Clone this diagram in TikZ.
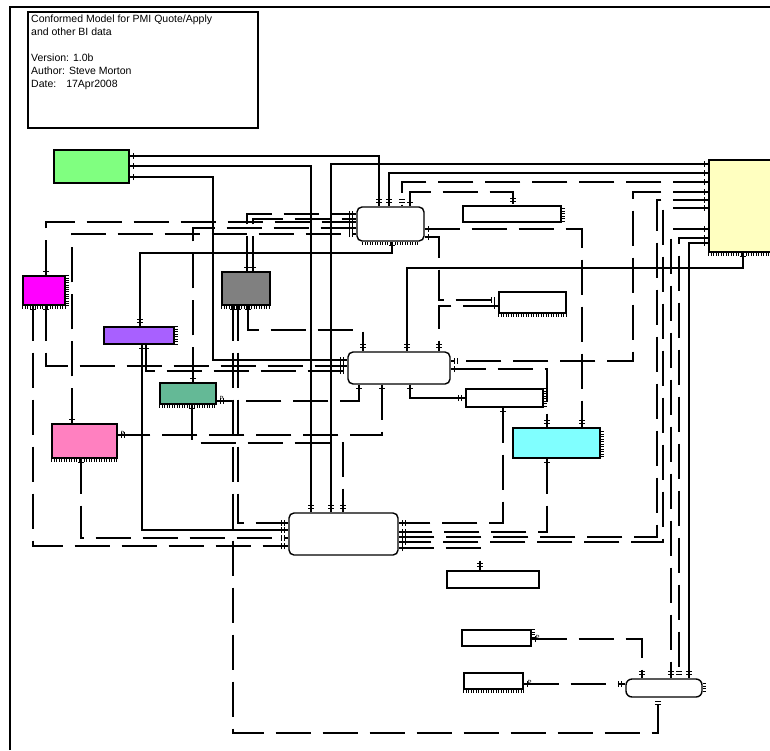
\documentclass[tikz,border=0pt]{standalone}
\usepackage{fontspec}
\setmainfont{Liberation Sans}
\usetikzlibrary{decorations.markings}
\definecolor{cgreen}{HTML}{80FF80}
\definecolor{cyellow}{HTML}{FFFFC0}
\definecolor{cmag}{HTML}{FF00FF}
\definecolor{cgray}{HTML}{808080}
\definecolor{cpurple}{HTML}{A860FF}
\definecolor{cteal}{HTML}{64B996}
\definecolor{cpink}{HTML}{FF80C0}
\definecolor{ccyan}{HTML}{80FFFF}
\tikzset{
  ent/.style={draw=black, line width=1.4pt, inner sep=0pt},
  rent/.style={ent, rounded corners=5pt},
  comb/.style={line width=2.6pt, dash pattern=on 0.7pt off 1.8pt},
  tick/.style={solid, line width=0.9pt},
  erend/.style={postaction={decorate,decoration={markings,
     mark=at position 4pt with {\draw[tick] (0,-3pt)--(0,3pt);},
     mark=at position -4pt with {\draw[tick] (0,-3pt)--(0,3pt);},
     mark=at position -7pt with {\draw[tick] (0,-3pt)--(0,3pt);}}}},
  rel/.style={line width=1.15pt, erend},
  idrel/.style={line width=1.15pt, dash pattern=on 35pt off 12pt, erend},
  pmark/.style={font=\fontsize{6}{6}\selectfont, inner sep=0pt}
}
\begin{document}
\begin{tikzpicture}[x=1pt,y=-1pt]
\useasboundingbox (0,0) rectangle (770,750);
% frame
\draw[line width=1.6pt] (10,750) -- (10,7) -- (775,7);
% title
\node[draw=black, line width=1.3pt, minimum width=230pt, minimum height=116pt, inner sep=0pt] (title) at (143,70) {};
\node[anchor=north west, align=left, inner sep=0pt, font=\fontsize{10.5}{13}\selectfont] (titletext) at (31,15)
 {Conformed Model for PMI Quote/Apply\\and other BI data\\[13pt]Version: 1.0b\\Author:\hspace{4pt}Steve Morton\\Date:\hspace{10pt}17Apr2008};
% entities
\node[ent, fill=cgreen, minimum width=75pt, minimum height=33pt] (green) at (91.5,166.5) {};
\node[ent, fill=cyellow, minimum width=75pt, minimum height=92pt] (yellow) at (746.5,206) {};
\node[rent, fill=white, minimum width=67pt, minimum height=34pt] (toprr) at (390.5,224) {};
\node[ent, fill=white, minimum width=98pt, minimum height=16pt] (twhite) at (512,214) {};
\node[ent, fill=cmag, minimum width=42pt, minimum height=29pt] (magenta) at (44,290.5) {};
\node[ent, fill=cgray, minimum width=48pt, minimum height=33pt] (gray) at (246,288.5) {};
\node[ent, fill=cpurple, minimum width=70pt, minimum height=17pt] (purple) at (139,335.5) {};
\node[ent, fill=white, minimum width=67pt, minimum height=21pt] (rwhite) at (532.5,302.5) {};
\node[rent, fill=white, minimum width=102pt, minimum height=32pt] (midrr) at (399,368) {};
\node[ent, fill=cteal, minimum width=56pt, minimum height=21pt] (teal) at (188,393.5) {};
\node[ent, fill=white, minimum width=77pt, minimum height=18pt] (w3) at (504.5,398) {};
\node[ent, fill=cpink, minimum width=65pt, minimum height=34pt] (pink) at (84.5,441) {};
\node[ent, fill=ccyan, minimum width=87pt, minimum height=30pt] (cyan) at (556.5,443) {};
\node[rent, fill=white, minimum width=109pt, minimum height=42pt] (botrr) at (343.5,534) {};
\node[ent, fill=white, minimum width=92pt, minimum height=17pt] (w4) at (493,579.5) {};
\node[ent, fill=white, minimum width=69pt, minimum height=16pt] (r2) at (496.5,638) {};
\node[ent, fill=white, minimum width=59pt, minimum height=16pt] (r3) at (493.5,681) {};
\node[rent, rounded corners=6pt, fill=white, minimum width=76pt, minimum height=18pt] (brr) at (664,688) {};
% combs
\draw[comb] ([yshift=-1.8pt]magenta.south west) -- ([yshift=-1.8pt]magenta.south east);
\draw[comb, dash pattern=on 0.7pt off 1.6pt] ([xshift=1.8pt]magenta.north east) -- ([xshift=1.8pt]magenta.south east);
\draw[comb] ([yshift=-1.8pt]gray.south west) -- ([yshift=-1.8pt]gray.south east);
\draw[comb] ([xshift=1.8pt]purple.north east) -- ([xshift=1.8pt]purple.south east);
\draw[comb] ([yshift=-1.8pt,xshift=6pt]toprr.south west) -- ([yshift=-1.8pt,xshift=-6pt]toprr.south east);
\draw[comb] ([xshift=1.8pt,yshift=-3pt]twhite.north east) -- ([xshift=1.8pt]twhite.south east);
\draw[comb] ([yshift=-1.8pt]rwhite.south west) -- ([yshift=-1.8pt]rwhite.south east);
\draw[comb] ([yshift=-1.8pt]teal.south west) -- ([yshift=-1.8pt]teal.south east);
\draw[comb] ([yshift=-1.8pt]pink.south west) -- ([yshift=-1.8pt]pink.south east);
\draw[comb] ([xshift=1.8pt,yshift=-4pt]cyan.north east) -- ([xshift=1.8pt]cyan.south east);
\draw[comb] ([yshift=-1.8pt]yellow.south west) -- ([yshift=-1.8pt]yellow.south east);
\draw[comb] ([xshift=1.8pt]w3.north east) -- ([xshift=1.8pt]w3.south east);
\draw[comb] ([yshift=-1.8pt]r3.south west) -- ([yshift=-1.8pt]r3.south east);
\draw[comb] ([xshift=1.8pt]r2.north east) -- ([xshift=1.8pt,yshift=5pt]r2.south east);
\draw[comb] ([xshift=1.8pt,yshift=-5pt]brr.north east) -- ([xshift=1.8pt,yshift=5pt]brr.south east);
% connectors from green
\draw[rel] (green.east |- 0,156) -| (379,0 |- toprr.north);
\draw[rel] (green.east |- 0,166) -| (311,0 |- botrr.north);
\draw[rel] (green.east |- 0,177) -| (213,360) -- (midrr.west |- 0,360);
% connectors from yellow
\draw[rel] (yellow.west |- 0,164) -| (331,0 |- botrr.north);
\draw[rel] (yellow.west |- 0,173) -| (389,0 |- toprr.north);
\draw[idrel] (yellow.west |- 0,182) -| (402,0 |- toprr.north);
\draw[idrel] (yellow.west |- 0,192) -| (633,361) -- (midrr.east |- 0,361);
\draw[idrel] (yellow.west |- 0,200) -| (657,537) -- (botrr.east |- 0,537);
\draw[idrel] (yellow.west |- 0,208) -| (663,542) -- (botrr.east |- 0,542);
\draw[idrel] (yellow.west |- 0,229) -| (671,0 |- brr.north);
\draw[idrel] (yellow.west |- 0,238) -| (679,0 |- brr.north);
\draw[rel] (yellow.west |- 0,243) -| (689,0 |- brr.north);
\draw[rel] (743,0 |- yellow.south) |- (407,268) -- (407,0 |- midrr.north);
% top rounded entity
\draw[rel] (392,0 |- toprr.south) |- (140,253) -- (140,0 |- purple.north);
\draw[idrel] (toprr.east |- 0,229) -| (582,0 |- cyan.north);
\draw[idrel] (toprr.east |- 0,237) -| (439,300) -- (rwhite.west |- 0,300);
\draw[idrel] (rwhite.west |- 0,306) -| (439,0 |- midrr.north);
\draw[idrel] (410,0 |- toprr.north) |- (513,192) -- (513,0 |- twhite.north);
\draw[idrel] (46,0 |- magenta.north) |- (toprr.west |- 0,222);
\draw[idrel] (72,0 |- pink.north) |- (toprr.west |- 0,234);
\draw[idrel] (193,0 |- teal.north) |- (toprr.west |- 0,228);
\draw[idrel] (247,0 |- gray.north) |- (toprr.west |- 0,214);
\draw[idrel] (253,0 |- gray.north) |- (toprr.west |- 0,219);
% magenta, purple, pink, teal, gray
\draw[idrel] (33,0 |- magenta.south) |- (botrr.west |- 0,546);
\draw[idrel] (46,0 |- magenta.south) |- (midrr.west |- 0,366);
\draw[rel] (142,0 |- purple.south) |- (botrr.west |- 0,530);
\draw[idrel] (146,0 |- purple.south) |- (midrr.west |- 0,371);
\draw[idrel] (382,0 |- midrr.south) |- (pink.east |- 0,435);
\draw[idrel] (81,0 |- pink.south) |- (botrr.west |- 0,538);
\draw[idrel] (359,0 |- midrr.south) |- (teal.east |- 0,401);
\draw[idrel] (192,0 |- teal.south) |- (343,443) -- (343,0 |- botrr.north);
\draw[idrel] (238,0 |- gray.south) |- (botrr.west |- 0,523);
\draw[idrel] (233,0 |- gray.south) |- (658,733) -- (658,0 |- brr.south);
\draw[idrel] (248,0 |- gray.south) |- (363,330) -- (363,0 |- midrr.north);
% middle / right side
\draw[rel] (410,0 |- midrr.south) |- (w3.west |- 0,398);
\draw[idrel] (midrr.east |- 0,369) -| (547,0 |- cyan.north);
\draw[idrel] (503,0 |- w3.south) |- (botrr.east |- 0,523);
\draw[idrel] (547,0 |- cyan.south) |- (botrr.east |- 0,532);
\draw[idrel] (botrr.east |- 0,548) -| (480,0 |- w4.north);
\draw[idrel] (r2.east |- 0,639) -| (642,0 |- brr.north);
\draw[idrel] (r3.east |- 0,684) -- (brr.west |- 0,684);
% P marks
\node[pmark] (p1) at ([xshift=5pt]pink.east |- 0,433) {P};
\node[pmark] (p2) at ([xshift=5pt]teal.east |- 0,398) {P};
\node[pmark] (p3) at ([xshift=6pt]r2.east |- 0,637) {P};
\node[pmark] (p4) at ([xshift=6pt]r3.east |- 0,682) {P};
\end{tikzpicture}
\end{document}
